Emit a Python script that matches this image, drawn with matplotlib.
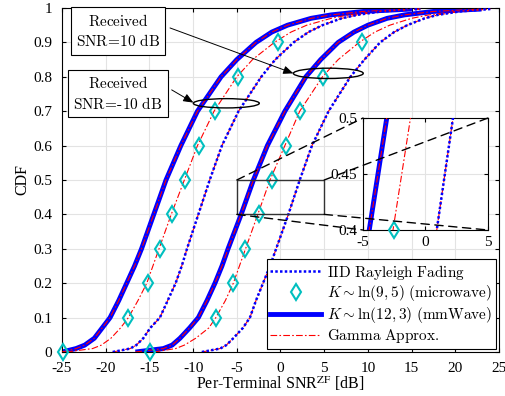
import numpy as np
import matplotlib
matplotlib.use('Agg')
import matplotlib.pyplot as plt
import matplotlib.patches as patches
from matplotlib.patches import ConnectionPatch
from matplotlib.lines import Line2D
from matplotlib.ticker import FuncFormatter

plt.rcParams['font.family'] = 'Liberation Serif'
plt.rcParams['mathtext.fontset'] = 'cm'
plt.rcParams['axes.unicode_minus'] = False

cdf = [0, 0.01, 0.02, 0.04, 0.07, 0.1, 0.15, 0.2, 0.25, 0.3, 0.4, 0.5, 0.6, 0.7,
       0.8, 0.85, 0.9, 0.93, 0.95, 0.97, 0.98, 0.99, 0.997]

# received SNR = -10 dB group
mm_lo = [-25.0, -23.4, -22.4, -21.3, -20.4, -19.5, -18.5, -17.6, -16.7, -15.9, -14.5, -13.1,
         -11.4, -9.5, -6.8, -5.0, -2.8, -1.0, 0.8, 3.5, 5.8, 9.5, 15.0]
ray_lo = [-19.2, -17.2, -16.5, -15.7, -14.9, -13.8, -12.9, -12.0, -11.3, -10.7, -9.4, -8.1,
          -6.7, -4.8, -2.2, -0.6, 1.5, 3.2, 4.8, 7.0, 8.8, 11.5, 16.0]
gam_mw_lo = [-24.5, -21.5, -20.5, -19.4, -18.3, -17.4, -16.3, -15.3, -14.6, -13.9, -12.5, -11.0,
             -9.5, -7.6, -5.0, -3.2, -0.7, 1.2, 3.0, 5.8, 7.8, 11.0, 16.0]

# received SNR = 10 dB group
mm_hi = [-16.6, -13.4, -12.4, -11.5, -10.4, -9.4, -8.4, -7.5, -6.7, -6.0, -4.5, -3.1,
         -1.5, 0.5, 2.9, 4.6, 6.6, 8.4, 10.0, 12.2, 14.2, 17.5, 23.0]
ray_hi = [-9.0, -6.9, -6.2, -5.4, -4.3, -3.5, -2.8, -2.0, -1.2, -0.5, 0.9, 2.2,
          3.6, 5.5, 8.0, 9.6, 11.4, 13.0, 14.5, 16.5, 18.0, 20.5, 24.0]
gam_mw_hi = [-14.5, -12.0, -11.0, -9.7, -8.2, -7.4, -6.3, -5.4, -4.7, -4.0, -2.6, -1.2,
             0.5, 2.2, 4.8, 6.6, 9.0, 10.8, 12.5, 15.0, 17.0, 20.0, 24.0]

# microwave simulation markers
cdf_mk = [0, 0.1, 0.2, 0.3, 0.4, 0.5, 0.6, 0.7, 0.8, 0.9]
mw_lo = [-24.9, -17.45, -15.15, -13.8, -12.4, -10.9, -9.3, -7.5, -4.9, -0.3]
mw_hi = [-14.9, -7.4, -5.45, -4.05, -2.5, -1.0, 0.6, 2.2, 4.85, 9.3]

BLUE = '#0000ff'
RED = '#ff0000'
CYAN = '#00bfbf'
dashdot = (0, (6, 2, 1.5, 2))
dotted = (0, (1, 0.9))


def draw(a, lw_thick=3.5):
    for xs in (mm_lo, mm_hi):
        a.plot(xs, cdf, color=BLUE, lw=lw_thick, solid_capstyle='butt', zorder=2)
    for xs in (mm_lo, mm_hi, ray_lo, ray_hi, gam_mw_lo, gam_mw_hi):
        a.plot(xs, cdf, color=RED, lw=0.8, ls=dashdot, zorder=3)
    for xs in (ray_lo, ray_hi):
        a.plot(xs, cdf, color=BLUE, lw=1.8, ls=dotted, zorder=4)


fig = plt.figure(figsize=(5.06, 3.96), dpi=100)
ax = fig.add_axes([62/506, 1-352/396, 437/506, 344/396])

draw(ax)
for xs in (mw_lo, mw_hi):
    ax.plot(xs, cdf_mk, ls='none', marker='d', ms=8, mfc='none', mec=CYAN, mew=1.5,
            clip_on=False, zorder=5)

ax.set_xlim(-25, 25)
ax.set_ylim(0, 1)
ax.set_xticks(np.arange(-25, 26, 5))
ax.set_yticks(np.arange(0, 1.01, 0.1))
ax.yaxis.set_major_formatter(FuncFormatter(lambda v, p: '%g' % round(v, 2)))
ax.grid(True, color='#e3e3e3', lw=0.8)
ax.set_axisbelow(True)
ax.tick_params(direction='in', top=True, right=True, length=3, labelsize=11)
ax.tick_params(axis='x', pad=7)
ax.tick_params(axis='y', pad=7)
for s in ax.spines.values():
    s.set_linewidth(0.8)
ax.set_xlabel('Per-Terminal SNR$^{\\rm ZF}$ [dB]', fontsize=11.5, labelpad=0,
              math_fontfamily='stix')
ax.set_ylabel('CDF', fontsize=11.5, labelpad=2)

# zoom rectangle and ellipses
ax.add_patch(patches.Rectangle((-5, 0.4), 10, 0.1, fill=False, lw=1, ec='#333333', zorder=6))
ax.add_patch(patches.Ellipse((5.47, 0.81), 8.0, 0.03, fill=False, lw=1, ec='k', zorder=6))
ax.add_patch(patches.Ellipse((-6.2, 0.723), 7.55, 0.027, fill=False, lw=1, ec='k', zorder=6))

box = dict(boxstyle='square,pad=0.35', fc='white', ec='k', lw=0.8)
ax.text(-18.6, 0.933, '$\\mathrm{Received}$\n$\\mathrm{SNR}\\!=\\!10\\ \\mathrm{dB}$',
        ha='center', va='center', fontsize=11, bbox=box, zorder=7, linespacing=1.35)
ax.text(-18.6, 0.751, '$\\mathrm{Received}$\n$\\mathrm{SNR}\\!=\\!\\text{-}10\\ \\mathrm{dB}$',
        ha='center', va='center', fontsize=11, bbox=box, zorder=7, linespacing=1.35)
arrow = dict(arrowstyle='-|>,head_length=0.6,head_width=0.25', color='k', lw=0.7,
             shrinkA=0, shrinkB=0)
ax.annotate('', xy=(1.47, 0.81), xytext=(-12.64, 0.942), arrowprops=arrow, zorder=7)
ax.annotate('', xy=(-9.97, 0.725), xytext=(-12.45, 0.762), arrowprops=arrow, zorder=7)

# legend
handles = [
    Line2D([], [], color=BLUE, lw=1.8, ls=dotted),
    Line2D([], [], ls='none', marker='d', ms=8, mfc='none', mec=CYAN, mew=1.5),
    Line2D([], [], color=BLUE, lw=3.5),
    Line2D([], [], color=RED, lw=0.8, ls=dashdot),
]
labels = ['$\\mathrm{IID\\ Rayleigh\\ Fading}$',
          '$K\\sim\\mathrm{ln}(9,5)\\ \\mathrm{(microwave)}$',
          '$K\\sim\\mathrm{ln}(12,3)\\ \\mathrm{(mmWave)}$',
          '$\\mathrm{Gamma\\ Approx.}$']
leg = ax.legend(handles, labels, loc='lower right', fontsize=11, fancybox=False,
                edgecolor='k', framealpha=1, borderpad=0.25, labelspacing=0.12,
                handlelength=3.3, handletextpad=0.4, borderaxespad=0.2)
leg.get_frame().set_linewidth(0.8)
leg.set_zorder(8)

# inset
axins = fig.add_axes([363/506, 1-230/396, 125/506, 112/396])
draw(axins, lw_thick=3.5)
for xs in (mw_lo, mw_hi):
    xs = np.array(xs)
    ys = np.array(cdf_mk)
    m = (xs >= -5) & (xs <= 5) & (ys >= 0.4) & (ys < 0.5)
    axins.plot(xs[m], ys[m], ls='none', marker='d', ms=8, mfc='none', mec=CYAN, mew=1.5,
               clip_on=False, zorder=5)
axins.set_xlim(-5, 5)
axins.set_ylim(0.4, 0.5)
axins.set_xticks([-5, 0, 5])
axins.set_yticks([0.4, 0.45, 0.5])
axins.set_yticklabels(['0.4', '0.45', '0.5'])
axins.grid(True, color='#e3e3e3', lw=0.8)
axins.set_axisbelow(True)
axins.tick_params(direction='in', top=True, right=True, length=3, labelsize=11, pad=4)
for s in axins.spines.values():
    s.set_linewidth(0.8)

# connecting dashed lines from rectangle corners to inset corners
for (xa, ya), (xb, yb) in [((-5, 0.5), (0, 1)), ((5, 0.5), (1, 1)),
                           ((-5, 0.4), (0, 0)), ((5, 0.4), (1, 0))]:
    con = ConnectionPatch(xyA=(xa, ya), coordsA=ax.transData, xyB=(xb, yb),
                          coordsB=axins.transAxes, color='k', lw=1, ls=(0, (6, 4)))
    con.set_zorder(10)
    fig.add_artist(con)

fig.savefig('out.png', dpi=100)
